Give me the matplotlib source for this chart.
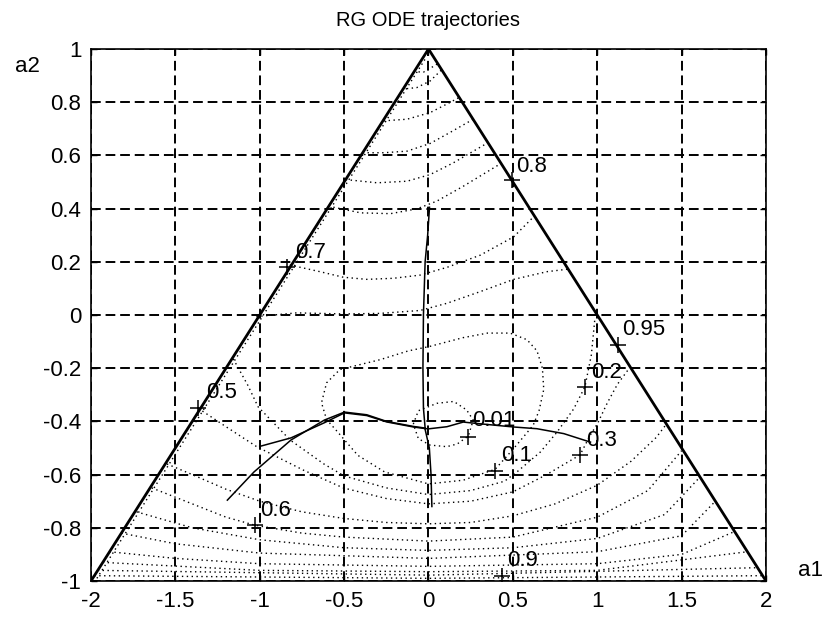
import matplotlib
matplotlib.use("Agg")
import matplotlib.pyplot as plt

plt.rcParams['font.family'] = ['Liberation Sans', 'DejaVu Sans']

# ---------------- data ----------------
x_ticks = [-2, -1.5, -1, -0.5, 0, 0.5, 1, 1.5, 2]
x_tick_labels = ['-2', '-1.5', '-1', '-0.5', '0', '0.5', '1', '1.5', '2']
y_ticks = [-1, -0.8, -0.6, -0.4, -0.2, 0, 0.2, 0.4, 0.6, 0.8, 1]
y_tick_labels = ['-1', '-0.8', '-0.6', '-0.4', '-0.2', '0', '0.2', '0.4', '0.6', '0.8', '1']

# stability triangle (a1, a2)
triangle_x = [-2, 0, 2]
triangle_y = [-1, 1, -1]

# dotted contour pieces (a1, a2)
c_edge_left = [(-1.965, -0.99), (-0.012, 0.97)]
c_apex1 = [(-0.088, 0.915), (-0.03, 0.913), (0.03, 0.935), (0.055, 0.945)]
c_apex2 = [(-0.157, 0.849), (-0.069, 0.855), (0.01, 0.88), (0.078, 0.922)]
c_apex3 = [(-0.265, 0.73), (-0.127, 0.736), (0.01, 0.761), (0.127, 0.799), (0.182, 0.818)]
c_apex4 = [(-0.39, 0.61), (-0.265, 0.61), (-0.127, 0.616), (0.01, 0.645), (0.127, 0.686), (0.265, 0.736)]
c_apex5 = [(-0.49, 0.509), (-0.304, 0.497), (-0.127, 0.503), (0.01, 0.528), (0.147, 0.572), (0.353, 0.648)]
c_top08 = [(-0.592, 0.409), (-0.402, 0.384), (-0.225, 0.381), (-0.069, 0.399), (0.049, 0.428),
           (0.206, 0.484), (0.43, 0.57)]
c_top07 = [(-0.822, 0.188), (-0.644, 0.163), (-0.505, 0.142), (-0.366, 0.134), (-0.208, 0.138),
           (-0.05, 0.15), (0.109, 0.179), (0.307, 0.225), (0.505, 0.294), (0.624, 0.37)]
c_top02 = [(-1.02, -0.006), (-0.782, 0.008), (-0.505, 0.004), (-0.287, 0.006), (-0.05, 0.017),
           (0.109, 0.044), (0.307, 0.088), (0.505, 0.134), (0.703, 0.163), (0.822, 0.172)]
c_loop01 = [(0.008, -0.118), (0.206, -0.085), (0.35, -0.068), (0.484, -0.068), (0.584, -0.093),
            (0.643, -0.135), (0.675, -0.2), (0.683, -0.28), (0.655, -0.36), (0.62, -0.415),
            (0.504, -0.5025), (0.395, -0.58), (0.206, -0.621), (0.0, -0.635), (-0.26, -0.59),
            (-0.419, -0.5275), (-0.538, -0.44), (-0.604, -0.393), (-0.634, -0.33), (-0.604, -0.255),
            (-0.525, -0.205), (-0.287, -0.168), (-0.12, -0.135), (0.008, -0.118)]
c_loop001 = [(-0.09, -0.41), (-0.06, -0.36), (0.05, -0.332), (0.15, -0.325), (0.226, -0.357),
             (0.265, -0.395), (0.236, -0.455), (0.17, -0.485), (0.108, -0.495), (0.009, -0.489),
             (-0.06, -0.465), (-0.09, -0.41)]
c_u1 = [(-1.157, -0.165), (-1.07, -0.265), (-1.01, -0.345), (-0.82, -0.47), (-0.62, -0.56),
        (-0.5, -0.605), (-0.25, -0.65), (0.0, -0.675), (0.25, -0.66), (0.45, -0.625), (0.524, -0.59),
        (0.663, -0.515), (0.762, -0.44), (0.861, -0.3525), (0.927, -0.27), (0.965, -0.15), (0.985, -0.02)]
c_u2 = [(-1.364, -0.351), (-1.2, -0.42), (-1.018, -0.495), (-0.742, -0.583), (-0.505, -0.65),
        (-0.25, -0.69), (0.0, -0.71), (0.25, -0.7), (0.5, -0.665), (0.7, -0.6), (0.898, -0.526),
        (0.96, -0.45), (1.0, -0.41), (1.06, -0.33), (1.12, -0.26), (1.19, -0.2)]
c_u3 = [(-1.55, -0.56), (-1.4, -0.6), (-1.2, -0.655), (-1.0, -0.7), (-0.75, -0.74), (-0.5, -0.765),
        (-0.25, -0.78), (0.0, -0.785), (0.25, -0.78), (0.5, -0.755), (0.75, -0.71), (1.0, -0.64),
        (1.2, -0.55), (1.35, -0.46), (1.41, -0.41)]
c_u4 = [(-1.64, -0.65), (-1.4, -0.71), (-1.2, -0.76), (-1.03, -0.79), (-0.75, -0.82), (-0.5, -0.835),
        (0.0, -0.85), (0.5, -0.835), (1.0, -0.76), (1.3, -0.66), (1.5, -0.51)]
c_u5 = [(-1.73, -0.74), (-1.4, -0.8), (-1.0, -0.845), (-0.5, -0.875), (0.0, -0.885), (0.5, -0.875),
        (1.0, -0.84), (1.4, -0.75), (1.6, -0.615)]
c_u6 = [(-1.82, -0.82), (-1.5, -0.86), (-1.0, -0.895), (0.0, -0.915), (1.0, -0.89), (1.5, -0.83),
        (1.7, -0.7)]
c_u7 = [(-1.89, -0.89), (-1.5, -0.915), (-1.0, -0.935), (0.0, -0.945), (1.0, -0.935), (1.5, -0.9),
        (1.81, -0.815)]
c_u8 = [(-1.93, -0.93), (-1.0, -0.96), (0.0, -0.965), (1.0, -0.96), (1.89, -0.89)]
c_u9 = [(-1.96, -0.96), (0.0, -0.978), (1.95, -0.95)]
c_u10 = [(-1.98, -0.98), (0.0, -0.99), (1.98, -0.98)]

contour_pieces = [c_edge_left, c_apex1, c_apex2, c_apex3, c_apex4, c_apex5, c_top08, c_top07, c_top02,
                  c_loop01, c_loop001, c_u1, c_u2, c_u3, c_u4, c_u5, c_u6, c_u7, c_u8, c_u9, c_u10]

# contour labels: text, marker point, text anchor (left, bottom)
label_texts = ['0.8', '0.7', '0.95', '0.2', '0.5', '0.01', '0.3', '0.1', '0.6', '0.9']
label_marks = [(0.493, 0.508), (-0.84, 0.182), (1.123, -0.113), (0.927, -0.27), (-1.364, -0.351),
               (0.236, -0.457), (0.898, -0.526), (0.394, -0.585), (-1.028, -0.789), (0.434, -0.981)]
label_anchor = [(0.52, 0.52), (-0.79, 0.195), (1.15, -0.095), (0.965, -0.255), (-1.32, -0.33),
                (0.26, -0.437), (0.935, -0.51), (0.43, -0.568), (-1.0, -0.775), (0.465, -0.962)]

# ODE trajectories (solid)
traj_1 = [(0.006, 0.405), (-0.005, 0.3), (-0.02, 0.2), (-0.03, 0.0), (-0.033, -0.2), (-0.03, -0.35),
          (-0.02, -0.425)]
traj_2 = [(0.02, -0.72), (0.015, -0.6), (0.005, -0.5), (-0.02, -0.43)]
traj_3 = [(-1.0, -0.494), (-0.815, -0.462), (-0.617, -0.405), (-0.498, -0.368), (-0.366, -0.378),
          (-0.248, -0.402), (-0.089, -0.421), (-0.02, -0.427)]
traj_4 = [(-1.192, -0.696), (-1.034, -0.59), (-0.815, -0.47), (-0.617, -0.395), (-0.498, -0.365),
          (-0.366, -0.375), (-0.248, -0.4), (-0.089, -0.419), (-0.02, -0.425)]
traj_5 = [(0.96, -0.478), (0.802, -0.446), (0.643, -0.4275), (0.504, -0.421), (0.306, -0.409),
          (0.206, -0.4025), (0.109, -0.42), (0.0, -0.428), (-0.02, -0.427)]
trajectories = [traj_1, traj_2, traj_3, traj_4, traj_5]

# ---------------- drawing ----------------
fig = plt.figure(figsize=(8.29, 6.2), dpi=100)
ax = fig.add_axes([91 / 829, 39 / 620, 675 / 829, 532 / 620])

ax.set_xlim(-2, 2)
ax.set_ylim(-1, 1)
ax.set_xticks(x_ticks)
ax.set_xticklabels(x_tick_labels)
ax.set_yticks(y_ticks)
ax.set_yticklabels(y_tick_labels)
ax.tick_params(direction='in', length=4, width=1, labelsize=16, top=True, right=True, pad=7)
ax.grid(True, color='black', linestyle=(0, (5, 2.5)), linewidth=1.4)
ax.set_axisbelow(True)
for s in ax.spines.values():
    s.set_linewidth(1.2)

for piece in contour_pieces:
    xs = [p[0] for p in piece]
    ys = [p[1] for p in piece]
    ax.plot(xs, ys, color='black', linestyle=(0, (1, 2.5)), linewidth=1.0)

ax.plot(triangle_x, triangle_y, color='black', linewidth=2.0, solid_joinstyle='miter')

for tr in trajectories:
    ax.plot([p[0] for p in tr], [p[1] for p in tr], color='black', linewidth=1.1)

for txt, mk, an in zip(label_texts, label_marks, label_anchor):
    ax.plot(mk[0], mk[1], marker='+', color='black', markersize=11, markeredgewidth=1.1)
    ax.text(an[0], an[1], txt, ha='left', va='bottom', fontsize=16)

fig.text(428.5 / 829, 1 - 20 / 620, 'RG ODE trajectories', ha='center', va='center', fontsize=14.5)
fig.text(27 / 829, 1 - 66 / 620, 'a2', ha='center', va='center', fontsize=16)
fig.text(811 / 829, 1 - 570 / 620, 'a1', ha='center', va='center', fontsize=16)

fig.savefig('out.png', dpi=100)
